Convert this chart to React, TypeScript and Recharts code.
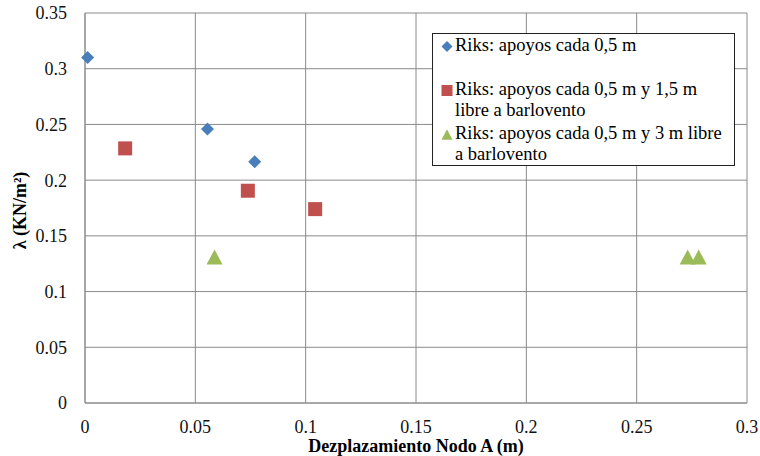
import { ScatterChart, Scatter, XAxis, YAxis, CartesianGrid, Legend, Label } from 'recharts'

const FONT = '"Liberation Serif", "Times New Roman", serif'

const xTicks = [0, 0.05, 0.1, 0.15, 0.2, 0.25, 0.3]
const yTicks = [0, 0.05, 0.1, 0.15, 0.2, 0.25, 0.3, 0.35]

const seriesNames = [
  'Riks: apoyos cada 0,5 m',
  'Riks: apoyos cada 0,5 m y 1,5 m\nlibre a barlovento',
  'Riks: apoyos cada 0,5 m y 3 m libre\na barlovento',
]
const seriesColors = ['#4a7ebb', '#c0504d', '#9bbb59']

// Riks: apoyos cada 0,5 m
const apoyosX = [0.0012, 0.0555, 0.0769]
const apoyosY = [0.310, 0.246, 0.2165]

// Riks: 1,5 m libre a barlovento
const libre15X = [0.0182, 0.0738, 0.1043]
const libre15Y = [0.2285, 0.1905, 0.174]

// Riks: 3 m libre a barlovento
const libre3X = [0.0587, 0.2731, 0.2781]
const libre3Y = [0.131, 0.131, 0.131]

const toPoints = (xs: number[], ys: number[]) => xs.map((x, i) => ({ x, y: ys[i] }))

const Diamond = ({ cx, cy, fill, r = 6.5 }: any) => (
  <path d={`M${cx},${cy - r}L${cx + r},${cy}L${cx},${cy + r}L${cx - r},${cy}Z`} fill={fill} />
)
const Square = ({ cx, cy, fill, r = 7 }: any) => (
  <rect x={cx - r} y={cy - r} width={r * 2} height={r * 2} fill={fill} />
)
const Triangle = ({ cx, cy, fill, r = 8 }: any) => (
  <path d={`M${cx},${cy - r * 0.94}L${cx + r},${cy + r * 0.94}L${cx - r},${cy + r * 0.94}Z`} fill={fill} />
)

const markers = [Diamond, Square, Triangle]

const YTitle = ({ viewBox }: any) => {
  const cx = viewBox.x + 19.5
  const cy = viewBox.y + viewBox.height / 2 + 2.5
  return (
    <text
      x={cx}
      y={cy}
      transform={`rotate(-90, ${cx}, ${cy})`}
      textAnchor="middle"
      dominantBaseline="central"
      fontFamily={FONT}
      fontSize={18}
      fontWeight="bold"
      fill="#000"
    >
      λ (KN/m²)
    </text>
  )
}

const renderLegend = () => (
  <div
    style={{
      boxSizing: 'border-box',
      width: 303,
      height: 133,
      border: '1px solid #222',
      background: '#fff',
      fontFamily: FONT,
      fontSize: 18.5,
      lineHeight: '21px',
      color: '#000',
      paddingTop: 1,
    }}
  >
    {seriesNames.map((name, i) => {
      const Marker = markers[i]
      return (
        <div key={name} style={{ display: 'flex', height: 44 }}>
          <svg width={22} height={21} style={{ flex: 'none' }}>
            <Marker cx={14} cy={11.5} r={5.5} fill={seriesColors[i]} />
          </svg>
          <div style={{ whiteSpace: 'pre' }}>{name}</div>
        </div>
      )
    })}
  </div>
)

export default function App() {
  const tick = { fill: '#111', fontSize: 18, fontFamily: FONT }
  return (
    <div style={{ position: 'absolute', left: 0, top: 0, background: '#fff' }}>
      <ScatterChart width={760} height={456} margin={{ top: 13, right: 13, bottom: 0, left: 0 }}>
        <CartesianGrid stroke="#8a8a8a" />
        <XAxis
          type="number"
          dataKey="x"
          domain={[0, 0.3]}
          ticks={xTicks}
          height={53}
          tick={tick}
          tickLine={false}
          tickMargin={11}
          axisLine={{ stroke: '#8a8a8a' }}
        >
          <Label
            value="Dezplazamiento Nodo A (m)"
            position="insideBottom"
            offset={4}
            style={{ fontFamily: FONT, fontSize: 18, fontWeight: 'bold', fill: '#000' }}
          />
        </XAxis>
        <YAxis
          type="number"
          dataKey="y"
          domain={[0, 0.35]}
          ticks={yTicks}
          width={85}
          tick={tick}
          tickLine={false}
          tickMargin={12}
          axisLine={{ stroke: '#8a8a8a' }}
        >
          <Label content={YTitle} />
        </YAxis>
        <Legend
          layout="horizontal"
          verticalAlign="middle"
          align="center"
          content={renderLegend}
          wrapperStyle={{ position: 'absolute', left: 432, top: 33, width: 303, height: 133 }}
        />
        <Scatter
          name={seriesNames[0]}
          data={toPoints(apoyosX, apoyosY)}
          fill={seriesColors[0]}
          shape={<Diamond />}
          isAnimationActive={false}
        />
        <Scatter
          name={seriesNames[1]}
          data={toPoints(libre15X, libre15Y)}
          fill={seriesColors[1]}
          shape={<Square />}
          isAnimationActive={false}
        />
        <Scatter
          name={seriesNames[2]}
          data={toPoints(libre3X, libre3Y)}
          fill={seriesColors[2]}
          shape={<Triangle />}
          isAnimationActive={false}
        />
      </ScatterChart>
    </div>
  )
}
